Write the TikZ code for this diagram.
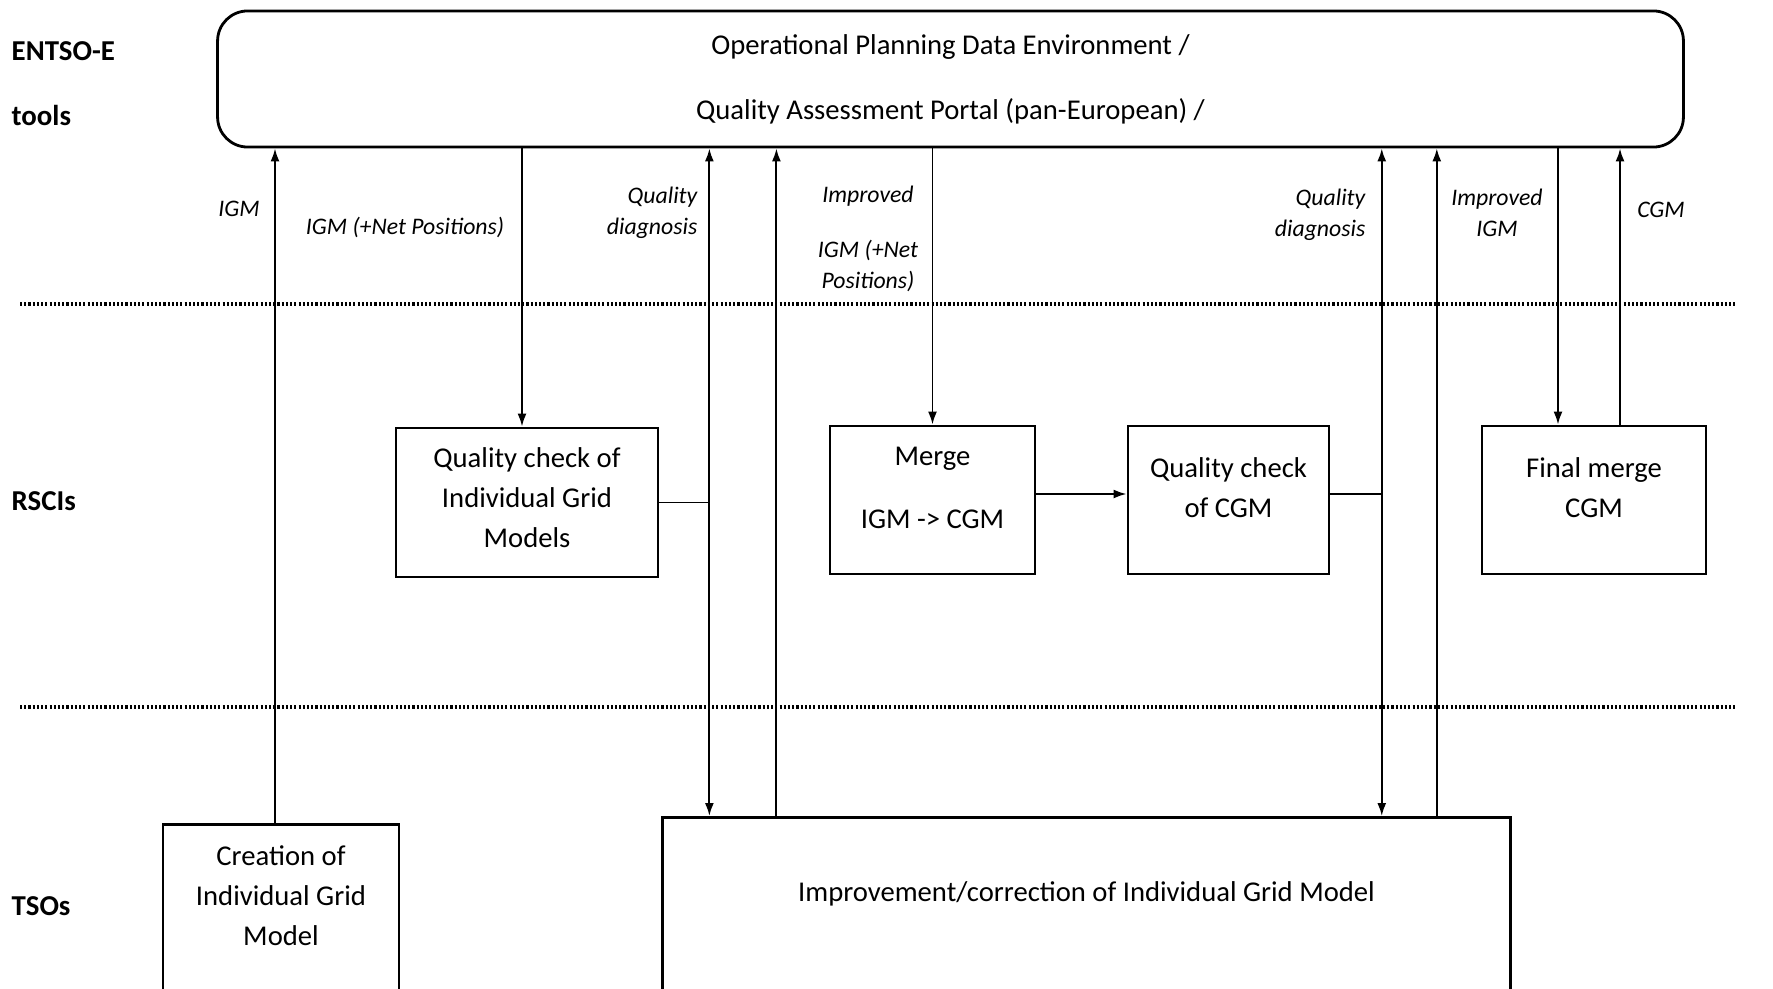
\documentclass[tikz,border=0pt]{standalone}
\usepackage{fontspec}
\setmainfont{Carlito}
\usetikzlibrary{arrows.meta}
\tikzset{
  box/.style={draw, line width=0.8pt, align=center, inner sep=0pt, font=\fontsize{8.15}{11.4}\selectfont},
  lbl/.style={font=\fontsize{6.75}{8.8}\selectfont\itshape, inner sep=0pt},
  lane/.style={font=\fontsize{8.2}{10}\selectfont\bfseries, anchor=west, inner sep=0pt},
  arr/.style={line width=0.55pt, -{Latex[length=0.13cm, width=0.09cm]}},
  arrs/.style={line width=0.55pt, {Latex[length=0.13cm, width=0.09cm]}-{Latex[length=0.13cm, width=0.09cm]}},
  sep/.style={line width=0.9pt, dash pattern=on 0.6pt off 0.6pt}
}
\begin{document}
\begin{tikzpicture}[x=0.01cm, y=-0.01cm]
\useasboundingbox (0,0) rectangle (1773,988);
\begin{scope}
\clip (0,0) rectangle (1773,988);

\node[lane] (e) at (11,51) {ENTSO-E};
\node[lane] (t) at (11,115) {tools};
\node[lane] (r) at (11,501) {RSCIs};
\node[lane] (s) at (11,906) {TSOs};

\draw[sep] (20,304) -- (1736,304);
\draw[sep] (20,707) -- (1736,707);

\node[box, rounded corners=0.3cm, minimum width=14.65cm, minimum height=1.36cm] (0) at (950.5,79) {Operational Planning Data Environment /\\[0.25cm]Quality Assessment Portal (pan-European) /};
\node[box, minimum width=2.62cm, minimum height=1.49cm, text depth=0.1cm] (1) at (527,502.5) {Quality check of\\Individual Grid\\Models};
\node[box, minimum width=2.05cm, minimum height=1.48cm, text depth=0.25cm] (2) at (932.5,500) {Merge\\[0.23cm]IGM -> CGM};
\node[box, minimum width=2.01cm, minimum height=1.48cm, text depth=0.25cm] (3) at (1228.5,500) {Quality check\\of CGM};
\node[box, minimum width=2.24cm, minimum height=1.48cm, text depth=0.25cm] (4) at (1594,500) {Final merge\\CGM};
\node[box, anchor=north, minimum width=2.36cm, minimum height=2cm, text depth=0.57cm] (5) at (281,823) {Creation of\\Individual Grid\\Model};
\node[box, anchor=north, minimum width=8.47cm, minimum height=2cm, text depth=0.52cm] (6) at (1086.5,816) {Improvement/correction of Individual Grid Model};

\coordinate (a) at ([xshift=-0.06cm]5.north);
\coordinate (q) at ([xshift=-0.05cm]1.north);
\coordinate (d1) at ([xshift=0.48cm]6.north west);
\coordinate (u1) at ([xshift=1.15cm]6.north west);
\coordinate (d2) at ([xshift=7.2cm]6.north west);
\coordinate (u2) at ([xshift=7.75cm]6.north west);
\coordinate (f1) at ([xshift=-0.36cm]4.north);
\coordinate (f2) at ([xshift=0.26cm]4.north);

\draw[arr] (a) -- (a |- 0.south);
\draw[arr] (0.south -| q) -- (q);
\draw[arrs] (d1 |- 0.south) -- (d1);
\draw[arr] (u1) -- (u1 |- 0.south);
\draw[arr] (0.south -| 2.north) -- (2.north);
\draw[arrs] (d2 |- 0.south) -- (d2);
\draw[arr] (u2) -- (u2 |- 0.south);
\draw[arr] (0.south -| f1) -- (f1);
\draw[arr] (f2) -- (f2 |- 0.south);

\draw[line width=0.55pt] (1.east) -- (1.east -| d1);
\draw[arr] ([yshift=0.06cm]2.east) -- ([yshift=0.06cm]2.east -| 3.west);
\draw[line width=0.55pt] ([yshift=0.06cm]3.east) -- ([yshift=0.06cm]3.east -| d2);

\node[lbl] (l1) at (239,209) {IGM};
\node[lbl] (l2) at (405,227) {IGM (+Net Positions)};
\node[lbl, align=right, anchor=east] (l3) at (698,213) {Quality\\diagnosis};
\node[lbl, align=center] (l4) at (868,239) {Improved\\[0.24cm]IGM (+Net\\Positions)};
\node[lbl, align=right, anchor=east] (l5) at (1366,215) {Quality\\diagnosis};
\node[lbl, align=center] (l6) at (1497,212.5) {Improved\\IGM};
\node[lbl] (l7) at (1661,210) {CGM};
\end{scope}
\end{tikzpicture}
\end{document}
